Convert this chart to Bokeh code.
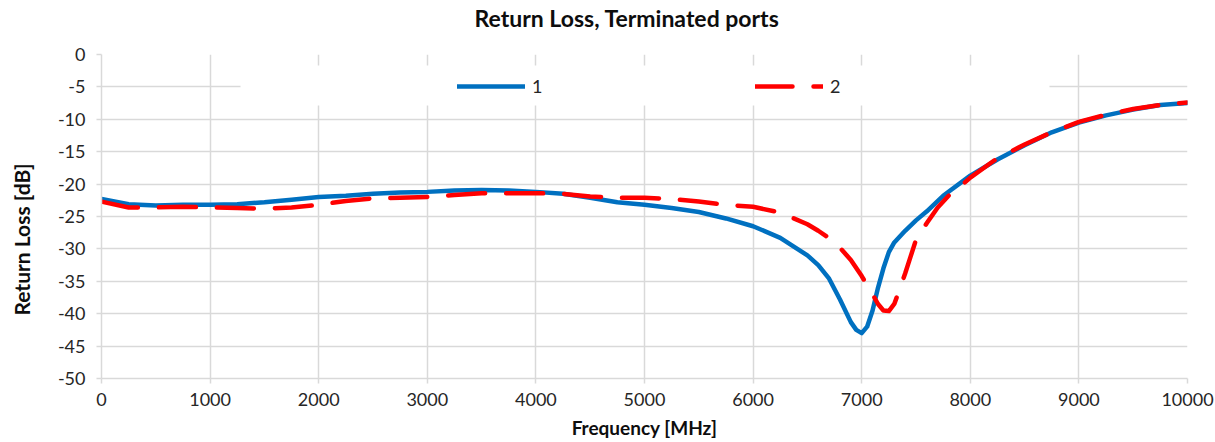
from bokeh.plotting import figure
from bokeh.models import ColumnDataSource, Legend, LegendItem, BoxAnnotation, FixedTicker, Title
from bokeh.embed import file_html
from bokeh.resources import INLINE

# ---- data ----
freq_1 = [0, 250, 500, 750, 1000, 1250, 1500, 1750, 2000, 2250, 2500, 2750, 3000, 3250,
          3500, 3750, 4000, 4250, 4500, 4750, 5000, 5250, 5500, 5750, 6000, 6250, 6500,
          6600, 6700, 6800, 6900, 6950, 7000, 7050, 7100, 7150, 7200, 7250, 7300, 7400,
          7500, 7600, 7750, 8000, 8250, 8500, 8750, 9000, 9250, 9500, 9750, 10000]
rl_1 = [-22.3, -23.1, -23.3, -23.2, -23.2, -23.1, -22.8, -22.4, -22.0, -21.8, -21.5, -21.3,
        -21.2, -21.0, -20.9, -21.0, -21.2, -21.5, -22.1, -22.8, -23.2, -23.7, -24.3, -25.3,
        -26.5, -28.3, -31.0, -32.5, -34.6, -37.8, -41.3, -42.5, -43.0, -42.0, -39.5, -36.0,
        -33.0, -30.5, -29.0, -27.2, -25.6, -24.2, -21.8, -18.7, -16.2, -14.0, -12.0, -10.5,
        -9.4, -8.5, -7.8, -7.5]

freq_2 = [0, 250, 500, 750, 1000, 1250, 1500, 1750, 2000, 2250, 2500, 2750, 3000, 3250,
          3500, 3750, 4000, 4250, 4500, 4750, 5000, 5250, 5500, 5750, 6000, 6250, 6500,
          6600, 6750, 6900, 7000, 7100, 7150, 7200, 7250, 7300, 7350, 7400, 7450, 7500,
          7600, 7700, 7800, 7900, 8000, 8250, 8500, 8750, 9000, 9250, 9500, 9750, 10000]
rl_2 = [-22.7, -23.6, -23.6, -23.5, -23.6, -23.7, -23.8, -23.6, -23.2, -22.6, -22.2, -22.1,
        -22.0, -21.7, -21.4, -21.4, -21.4, -21.5, -21.9, -22.1, -22.1, -22.3, -22.7, -23.2,
        -23.5, -24.4, -26.2, -27.2, -28.9, -31.7, -34.2, -37.0, -38.5, -39.5, -39.6, -38.5,
        -36.2, -33.8, -31.2, -28.6, -26.0, -23.6, -21.8, -20.5, -19.0, -16.0, -13.9, -12.0,
        -10.4, -9.3, -8.4, -7.8, -7.4]

series_names = ["1", "2"]
x_ticks = [0, 1000, 2000, 3000, 4000, 5000, 6000, 7000, 8000, 9000, 10000]
y_ticks = [0, -5, -10, -15, -20, -25, -30, -35, -40, -45, -50]
y_tick_labels = ["0", "-5", "-10", "-15", "-20", "-25", "-30", "-35", "-40", "-45", "-50"]

title_text = "Return Loss, Terminated ports"
x_title = "Frequency [MHz]"
y_title = "Return Loss [dB]"

FONT = "Lato"
GRID = "#d9d9d9"
TXT = "#262626"
TITLE_C = "#0d0d0d"
NBSP = "\u00a0"

p = figure(width=1215, height=442, output_backend="svg", toolbar_location=None,
           x_range=(0, 10000), y_range=(-50, 0),
           min_border_left=101, min_border_right=28, min_border_top=54, min_border_bottom=64)

p.outline_line_color = None
p.background_fill_color = "white"
p.border_fill_color = "white"

# chart title (outer slot)
p.title.text = title_text
p.title.text_font = FONT
p.title.text_font_size = "23px"
p.title.text_font_style = "bold"
p.title.text_color = TITLE_C
p.title.align = "left"
p.title.offset = 373
p.title.standoff = 0

# blank spacer between the frame and the title
spacer = Title(text=NBSP, standoff=0, text_font=FONT, text_font_size="17px")
p.add_layout(spacer, "above")

p.xaxis.ticker = FixedTicker(ticks=x_ticks)
p.yaxis.ticker = FixedTicker(ticks=y_ticks)
p.yaxis.major_label_overrides = {t: lab for t, lab in zip(y_ticks, y_tick_labels)}
p.xaxis.major_label_overrides = {t: str(t) for t in x_ticks}

for ax in (p.xaxis, p.yaxis):
    ax.axis_line_color = GRID
    ax.axis_line_width = 1.5
    ax.major_tick_line_color = GRID
    ax.major_tick_line_width = 1.5
    ax.major_tick_in = 0
    ax.major_tick_out = 5
    ax.minor_tick_line_color = None
    ax.major_label_text_font = FONT
    ax.major_label_text_font_size = "18px"
    ax.major_label_text_color = TXT
    ax.axis_label_text_font = FONT
    ax.axis_label_text_font_style = "bold"
    ax.axis_label_text_color = TITLE_C

p.xaxis.axis_label_text_font_size = "19px"
p.yaxis.axis_label_text_font_size = "21px"
p.xaxis.axis_label = x_title
# trailing non-breaking spaces move the centred y title down, as in the original
p.yaxis.axis_label = y_title + NBSP * 9
p.yaxis.major_label_standoff = 11
p.xaxis.major_label_standoff = 9
p.xaxis.axis_label_standoff = 7
p.yaxis.axis_label_standoff = 21

p.xgrid.grid_line_color = GRID
p.ygrid.grid_line_color = GRID
p.xgrid.grid_line_width = 1.5
p.ygrid.grid_line_width = 1.5

src1 = ColumnDataSource(dict(x=freq_1, y=rl_1))
src2 = ColumnDataSource(dict(x=freq_2, y=rl_2))

r1 = p.line("x", "y", source=src1, line_color="#0070c0", line_width=4.5, line_join="round", line_cap="round")
r2 = p.line("x", "y", source=src2, line_color="#ff0000", line_width=4.5, line_join="round", line_cap="round",
            line_dash="37 21")

# white legend background band (covers grid lines like the original)
band = BoxAnnotation(left=1280, right=8729, top=-1.7, bottom=-7.87,
                     fill_color="white", fill_alpha=1.0, line_color=None)
p.add_layout(band)

legend = Legend(items=[LegendItem(label=series_names[0], renderers=[r1]),
                       LegendItem(label=series_names[1], renderers=[r2])],
                orientation="horizontal", location=(356, 281),
                glyph_width=68, glyph_height=20, label_standoff=7, spacing=203,
                padding=0, margin=0, border_line_color=None, background_fill_alpha=0,
                label_text_font=FONT, label_text_font_size="18px", label_text_color=TXT)
p.add_layout(legend)

open("out.html", "w").write(file_html(p, INLINE))
